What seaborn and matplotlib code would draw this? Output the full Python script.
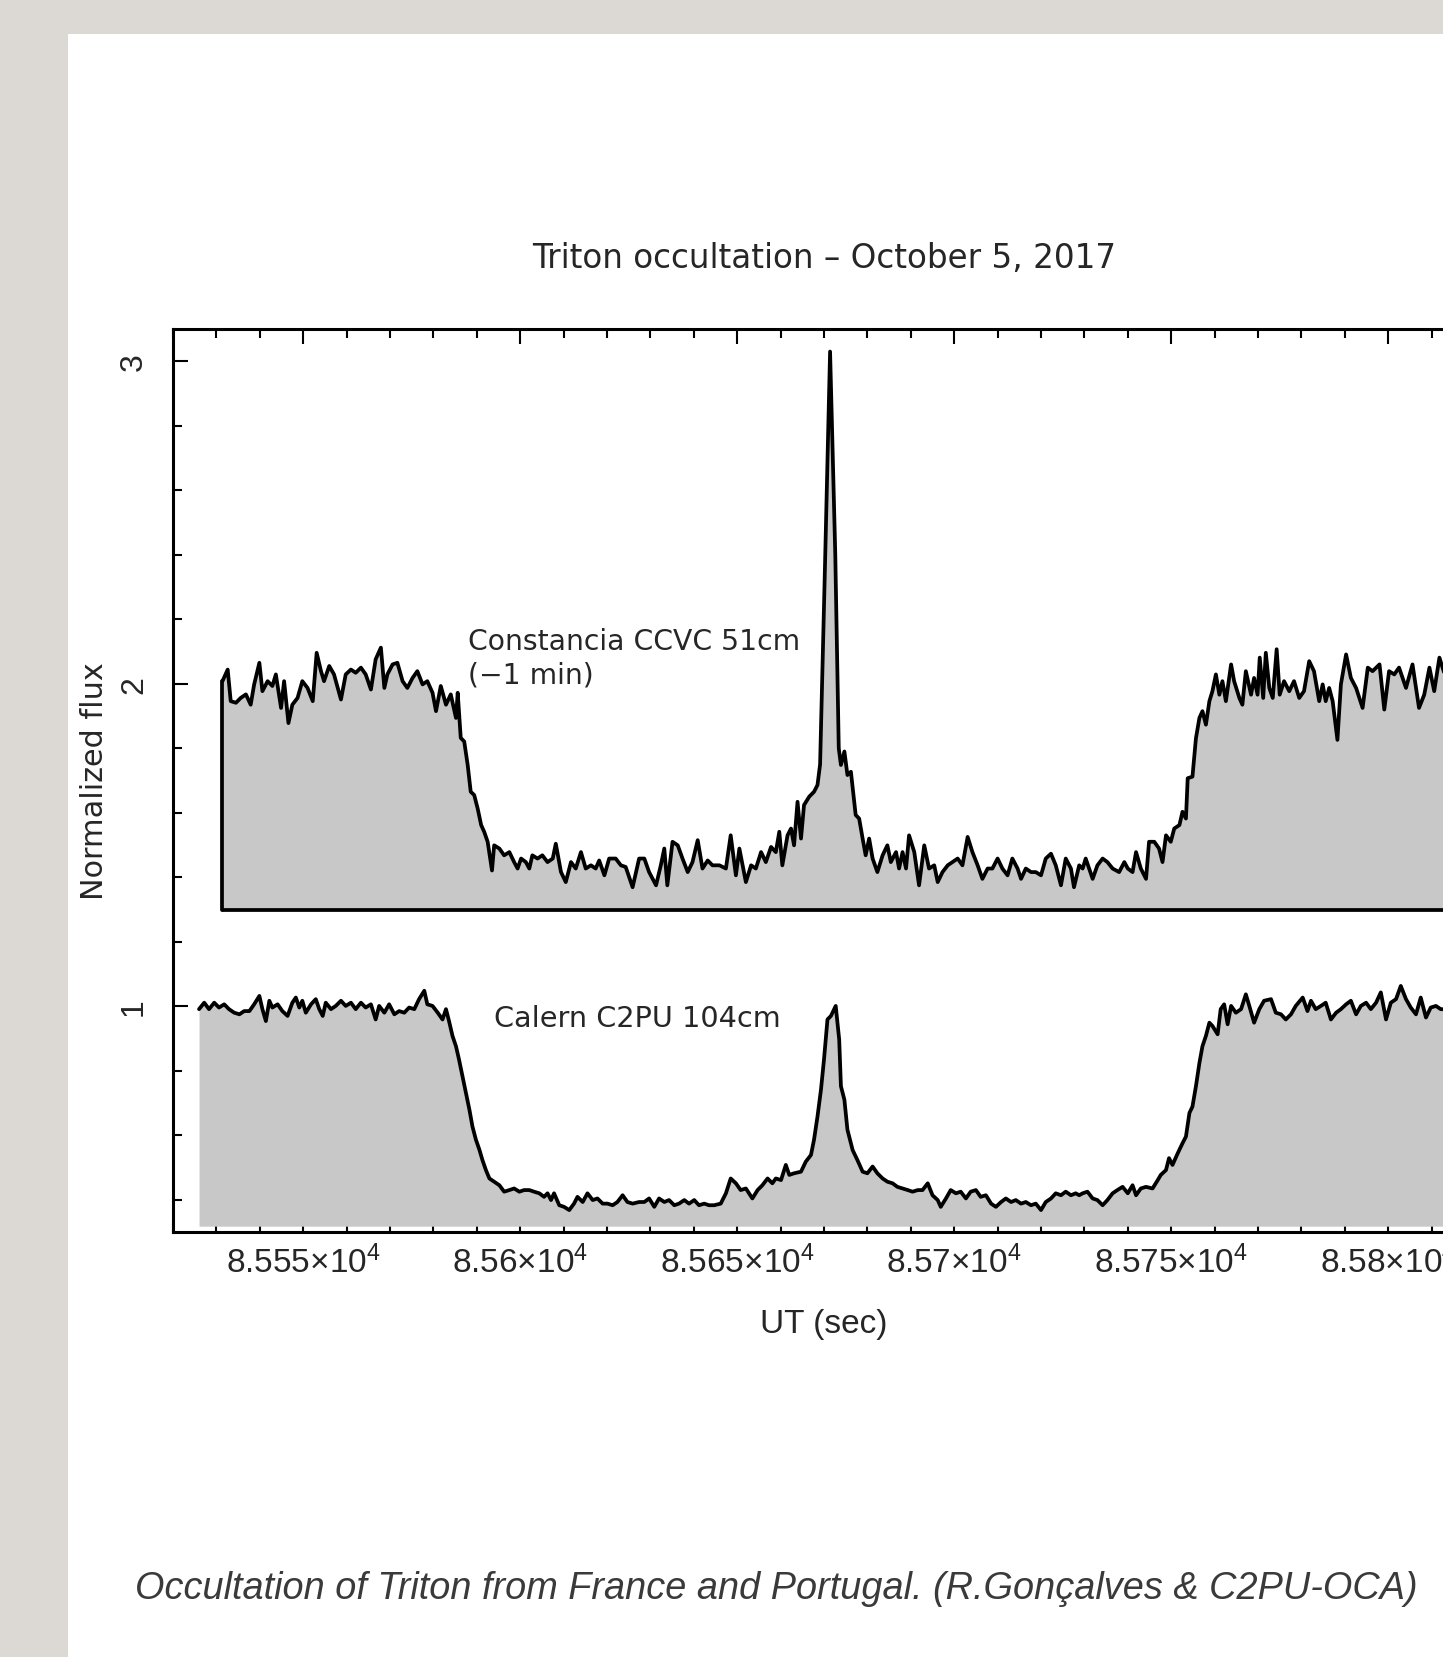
import numpy as np
import pandas as pd
import matplotlib
matplotlib.use("Agg")
import matplotlib.pyplot as plt
import seaborn as sns
from matplotlib.patches import Rectangle
from matplotlib.ticker import MultipleLocator, FuncFormatter

sns.set_style("ticks")
plt.rcParams["font.family"] = ["DejaVu Sans"]
plt.rcParams["mathtext.default"] = "regular"

# ---------------- data ----------------
title_text = "Triton occultation – October 5, 2017"
xlabel_text = "UT (sec)"
ylabel_text = "Normalized flux"
caption_text = "Occultation of Triton from France and Portugal. (R.Gonçalves & C2PU-OCA)"
label_upper = "Constancia CCVC 51cm\n(−1 min)"
label_lower = "Calern C2PU 104cm"

time_origin = 85500.0  # UT seconds; the series below are seconds after this

upper_sec = [
    31.4, 32.6, 33.3, 34.5, 35.6, 36.8, 37.9, 38.7, 39.9, 40.6,
    41.8, 42.9, 43.7, 44.9, 45.6, 46.6, 47.5, 48.7, 49.8, 51.0,
    52.2, 53.1, 54.1, 54.8, 56.0, 57.1, 58.7, 59.8, 61.0, 62.1,
    63.3, 64.4, 65.6, 66.7, 67.9, 68.7, 69.4, 70.6, 71.7, 72.9,
    74.0, 75.2, 76.3, 77.5, 78.6, 79.8, 80.6, 81.7, 82.9, 84.0,
    85.2, 85.6, 86.3, 87.1, 87.9, 88.6, 89.4, 90.2, 91.0, 91.7,
    92.5, 93.5, 94.0, 95.2, 96.3, 97.5, 98.6, 99.4, 100.2, 101.3,
    102.1, 102.8, 104.0, 105.1, 106.3, 107.5, 108.2, 109.4, 110.5, 111.7,
    112.8, 114.0, 115.1, 116.3, 117.4, 118.2, 119.4, 120.5, 122.0, 123.2,
    124.3, 125.9, 127.4,
    128.6, 129.7, 131.3, 132.4, 133.2, 133.9, 135.1, 136.3, 137.4, 138.6,
    139.7, 140.9, 142.0, 143.2, 144.3, 145.9, 147.4, 148.5, 149.7, 150.5,
    152.0, 153.2, 154.3, 155.5, 156.6, 157.8, 158.9, 159.7, 160.4, 161.6,
    162.4, 163.1, 163.9, 164.7, 165.4, 166.6, 167.7, 168.5, 169.1, 170.2,
    171.4, 172.6, 173.4, 173.9, 174.7, 175.4, 176.2, 177.3, 178.1, 178.9,
    179.6, 180.4, 181.2, 182.3, 183.5, 184.6, 185.4, 186.6, 187.3, 188.1,
    188.9, 189.6, 190.8, 191.9, 193.1, 194.2, 195.4, 196.2, 197.3, 198.5,
    199.6, 200.8, 201.9, 203.1, 204.2, 205.4, 206.5, 207.7, 208.8, 210.0,
    211.1, 212.3, 213.4, 214.6, 215.4, 216.5, 217.7, 218.8, 220.0, 221.1,
    222.3, 223.4, 224.6, 225.7, 226.9, 227.6, 228.8,
    229.6, 230.3, 231.9, 233.0, 234.2, 235.3, 236.5, 238.0, 239.2, 240.0,
    241.1, 241.9, 243.0, 244.2, 244.9, 246.1, 247.2, 248.0, 248.8, 249.9,
    250.7, 251.9, 252.6, 253.4, 253.8, 254.9, 255.7, 256.5, 257.2, 258.0,
    258.8, 259.5, 260.3, 261.1, 261.8, 262.6, 263.8, 264.5, 265.7, 266.4,
    267.2, 268.4, 269.1, 269.9, 270.4, 271.2, 271.8, 272.6, 273.4, 274.3,
    275.0, 276.0, 277.2, 278.3, 279.5, 280.6, 281.8, 282.9, 284.1, 284.9,
    285.6, 286.4, 287.2, 288.3, 289.1, 290.3, 291.4, 292.6, 294.1, 295.3,
    296.4, 298.0, 299.1, 300.2, 301.4, 302.5, 304.1, 305.6, 307.1, 308.3,
    309.5, 310.6, 311.8, 313.0, 314.5,
]
upper_flux = [
    2.008, 2.044, 1.946, 1.941, 1.956, 1.967, 1.935, 1.998, 2.065, 1.977,
    2.008, 1.993, 2.029, 1.925, 2.008, 1.878, 1.935, 1.956, 2.008, 1.987,
    1.946, 2.096, 2.039, 2.008, 2.055, 2.029, 1.951, 2.029, 2.044, 2.034,
    2.050, 2.029, 1.982, 2.076, 2.112, 1.987, 2.029, 2.060, 2.065, 2.008,
    1.987, 2.018, 2.039, 1.998, 2.008, 1.972, 1.915, 1.993, 1.935, 1.967,
    1.894, 1.972, 1.832, 1.821, 1.748, 1.665, 1.655, 1.613, 1.562, 1.541,
    1.510, 1.421, 1.499, 1.489, 1.468, 1.478, 1.447, 1.427, 1.458, 1.447,
    1.427, 1.468, 1.458, 1.468, 1.447, 1.458, 1.504, 1.416, 1.385, 1.447,
    1.427, 1.478, 1.427, 1.437, 1.427, 1.452, 1.406, 1.458, 1.458, 1.437,
    1.432, 1.369, 1.458,
    1.458, 1.416, 1.375, 1.437, 1.489, 1.375, 1.510, 1.499, 1.458, 1.416,
    1.447, 1.515, 1.427, 1.452, 1.437, 1.437, 1.427, 1.530, 1.406, 1.489,
    1.385, 1.437, 1.427, 1.478, 1.447, 1.494, 1.478, 1.541, 1.437, 1.530,
    1.551, 1.499, 1.634, 1.520, 1.624, 1.650, 1.665, 1.686, 1.75, 2.35,
    3.03, 2.40, 1.80, 1.748, 1.790, 1.717, 1.727, 1.593, 1.582, 1.520,
    1.468, 1.520, 1.458, 1.416, 1.468, 1.499, 1.447, 1.478, 1.427, 1.478,
    1.427, 1.530, 1.478, 1.375, 1.499, 1.427, 1.437, 1.385, 1.416, 1.437,
    1.447, 1.458, 1.437, 1.525, 1.478, 1.437, 1.395, 1.427, 1.427, 1.458,
    1.427, 1.406, 1.458, 1.427, 1.395, 1.427, 1.416, 1.416, 1.406, 1.458,
    1.473, 1.437, 1.375, 1.458, 1.427, 1.369, 1.437,
    1.427, 1.458, 1.395, 1.437, 1.458, 1.447, 1.427, 1.416, 1.447, 1.427,
    1.416, 1.478, 1.427, 1.395, 1.510, 1.510, 1.489, 1.447, 1.530, 1.510,
    1.551, 1.562, 1.603, 1.582, 1.707, 1.712, 1.831, 1.894, 1.915, 1.873,
    1.946, 1.977, 2.029, 1.966, 2.008, 1.946, 2.060, 2.008, 1.956, 1.935,
    2.039, 1.966, 2.018, 1.966, 2.081, 1.956, 2.096, 1.987, 1.956, 2.107,
    1.966, 2.008, 1.977, 2.008, 1.956, 1.977, 2.070, 2.039, 1.946, 1.998,
    1.946, 1.987, 1.946, 1.826, 1.998, 2.091, 2.018, 1.987, 1.925, 2.050,
    2.039, 2.060, 1.920, 2.039, 2.029, 2.050, 1.987, 2.060, 1.925, 1.966,
    2.050, 1.977, 2.081, 2.03, 2.00,
]
upper_base = 1.30

lower_sec = [
    26.0, 27.2, 28.3, 29.5, 30.6, 31.8, 32.9, 34.1, 35.3, 36.4,
    37.6, 38.7, 39.9, 40.6, 41.4, 42.2, 42.9, 44.1, 45.2, 46.4,
    47.5, 48.3, 49.1, 49.8, 50.6, 51.8, 52.9, 53.7, 54.5, 55.2,
    56.4, 57.5, 58.7, 59.8, 61.0, 62.1, 63.3, 64.4, 65.6, 66.7,
    67.5, 68.7, 69.8, 71.0, 72.1, 73.3, 74.4, 75.6, 76.7, 77.9,
    78.6, 79.8, 81.0, 82.1, 82.9, 83.6, 84.4, 85.2, 85.9, 86.7,
    87.5, 88.3, 89.0, 89.8, 90.6, 91.3, 92.1, 92.9, 94.0, 95.2,
    96.3, 97.5, 98.6, 99.8, 100.9, 102.1, 103.2, 104.4, 105.5, 106.3,
    107.1, 107.8, 109.0, 110.1, 111.3, 112.4, 113.2, 114.4, 115.5, 116.7,
    117.8, 119.0, 120.1, 121.3, 122.4, 123.6, 124.7, 125.9, 127.4,
    128.6, 129.7, 130.9, 132.0, 133.2, 134.3, 135.5, 136.6, 137.8, 138.9,
    140.1, 141.2, 142.4, 143.5, 144.7, 146.2, 147.4, 148.5, 149.7, 150.8,
    152.0, 153.5, 154.7, 155.8, 157.0, 158.1, 158.9, 160.1, 161.2, 162.0,
    163.1, 164.7, 165.8, 167.0, 167.7, 168.5, 169.3, 170.0, 170.8, 171.6,
    172.7, 173.5, 173.9, 174.7, 175.4, 176.6, 177.7, 178.9, 180.0, 181.2,
    182.3, 183.5, 184.6, 185.8, 186.9, 188.1, 189.3, 190.4, 191.6, 192.7,
    193.9, 195.0, 196.2, 196.9, 198.1, 199.2, 200.4, 201.5, 202.7, 203.8,
    205.0, 206.1, 207.3, 208.5, 209.6, 210.8, 211.9, 213.1, 214.2, 215.4,
    216.5, 217.7, 218.8, 220.0, 221.1, 222.3, 223.4, 224.6, 225.7, 226.9,
    228.0, 228.8,
    229.6, 230.7, 231.9, 233.0, 234.2, 235.3, 236.5, 237.6, 238.8, 240.0,
    241.1, 241.9, 243.0, 244.2, 245.7, 246.9, 247.6, 248.8, 249.5, 250.3,
    251.5, 252.6, 253.4, 254.2, 254.9, 255.7, 256.5, 257.2, 258.0, 258.8,
    259.5, 260.7, 261.4, 262.2, 263.0, 263.8, 264.9, 266.1, 267.2, 268.0,
    269.1, 270.3, 271.4, 273.0, 274.1, 275.3, 276.4, 277.6, 278.7, 280.3,
    281.4, 282.2, 283.3, 284.5, 285.6, 286.8, 288.0, 289.1, 290.3, 291.4,
    292.6, 293.7, 294.9, 296.0, 297.2, 298.3, 299.5, 300.6, 301.8, 302.9,
    304.1, 305.2, 306.4, 307.5, 308.7, 309.8, 311.0, 312.1, 314.0,
]
lower_flux = [
    0.991, 1.011, 0.991, 1.011, 0.996, 1.006, 0.991, 0.980, 0.975, 0.985,
    0.985, 1.006, 1.032, 0.991, 0.954, 1.017, 0.996, 1.006, 0.985, 0.970,
    1.011, 1.027, 0.996, 1.017, 0.980, 1.006, 1.022, 0.991, 0.970, 1.011,
    0.991, 1.001, 1.017, 1.001, 1.011, 0.991, 1.011, 0.996, 1.006, 0.959,
    1.001, 0.980, 1.006, 0.975, 0.985, 0.980, 0.996, 0.991, 1.022, 1.048,
    1.006, 1.001, 0.980, 0.959, 0.991, 0.954, 0.908, 0.876, 0.835, 0.783,
    0.731, 0.679, 0.627, 0.586, 0.555, 0.523, 0.492, 0.466, 0.456, 0.445,
    0.425, 0.430, 0.435, 0.425, 0.430, 0.430, 0.425, 0.420, 0.409, 0.420,
    0.399, 0.420, 0.383, 0.378, 0.368, 0.388, 0.409, 0.393, 0.420, 0.399,
    0.404, 0.388, 0.388, 0.383, 0.393, 0.414, 0.393, 0.388, 0.393,
    0.393, 0.404, 0.378, 0.404, 0.393, 0.399, 0.383, 0.388, 0.399, 0.388,
    0.399, 0.383, 0.388, 0.383, 0.383, 0.388, 0.420, 0.466, 0.451, 0.430,
    0.435, 0.404, 0.430, 0.445, 0.466, 0.451, 0.466, 0.461, 0.508, 0.477,
    0.482, 0.487, 0.518, 0.539, 0.586, 0.658, 0.741, 0.835, 0.959, 0.970,
    1.001, 0.897, 0.752, 0.710, 0.617, 0.554, 0.523, 0.487, 0.482, 0.503,
    0.482, 0.466, 0.456, 0.451, 0.440, 0.435, 0.430, 0.425, 0.430, 0.430,
    0.451, 0.414, 0.399, 0.378, 0.404, 0.430, 0.420, 0.425, 0.404, 0.425,
    0.430, 0.409, 0.414, 0.388, 0.378, 0.393, 0.404, 0.393, 0.399, 0.388,
    0.393, 0.383, 0.388, 0.368, 0.393, 0.404, 0.420, 0.414, 0.425, 0.414,
    0.420, 0.414,
    0.420, 0.425, 0.404, 0.399, 0.383, 0.399, 0.420, 0.430, 0.440, 0.420,
    0.445, 0.414, 0.435, 0.440, 0.435, 0.461, 0.477, 0.492, 0.529, 0.508,
    0.544, 0.575, 0.596, 0.669, 0.689, 0.752, 0.824, 0.876, 0.908, 0.949,
    0.939, 0.913, 0.991, 1.006, 0.944, 1.001, 0.980, 0.991, 1.037, 1.001,
    0.949, 0.991, 1.017, 1.022, 0.980, 0.975, 0.959, 0.975, 1.001, 1.027,
    0.985, 1.017, 0.991, 1.001, 1.011, 0.959, 0.980, 0.991, 1.006, 1.017,
    0.975, 1.001, 1.011, 0.991, 1.011, 1.043, 0.959, 1.011, 1.022, 1.063,
    1.022, 0.996, 0.975, 1.027, 0.965, 0.996, 1.001, 0.991, 0.99,
]
lower_base = 0.318

x_range = (85520, 85820)
y_range = (0.30, 3.10)

# ---------------- figure ----------------
W, H = 1443, 1658
fig = plt.figure(figsize=(W / 100, H / 100), dpi=100)
fig.patch.set_facecolor("#dcd9d4")
fig.patches.append(Rectangle((68 / W, 0), 1.0, 1 - 35 / H, transform=fig.transFigure,
                             facecolor="white", edgecolor="none", zorder=-5))

ax = fig.add_axes([173 / W, 1 - 1233 / H, 1302 / W, 903 / H])
ax.set_facecolor("white")

upper_df = pd.DataFrame({"UT": time_origin + np.array(upper_sec), "flux": upper_flux})
lower_df = pd.DataFrame({"UT": time_origin + np.array(lower_sec), "flux": lower_flux})

fill_col = "#c8c8c8"
ax.fill_between(lower_df["UT"], lower_base, lower_df["flux"], color=fill_col, lw=0, zorder=1)
ax.fill_between(upper_df["UT"], upper_base, upper_df["flux"], color=fill_col, lw=0, zorder=1)

lw = 2.7
sns.lineplot(data=lower_df, x="UT", y="flux", ax=ax, color="black", linewidth=lw,
             estimator=None, sort=False, solid_joinstyle="round", zorder=3)
sns.lineplot(data=upper_df, x="UT", y="flux", ax=ax, color="black", linewidth=lw,
             estimator=None, sort=False, solid_joinstyle="round", zorder=3)
# outline of the upper (offset) light curve box
t0 = upper_df["UT"].iloc[0]
ax.plot([t0, t0], [upper_base, upper_df["flux"].iloc[0]], color="black", lw=lw, zorder=3)
ax.plot([t0, x_range[1] + 20], [upper_base, upper_base], color="black", lw=lw, zorder=3,
        solid_capstyle="butt")

ax.set_xlim(*x_range)
ax.set_ylim(*y_range)

# ticks
ax.xaxis.set_major_locator(MultipleLocator(50))
ax.xaxis.set_minor_locator(MultipleLocator(10))
ax.yaxis.set_major_locator(MultipleLocator(1))
ax.yaxis.set_minor_locator(MultipleLocator(0.2))
ax.xaxis.set_major_formatter(FuncFormatter(lambda v, p: f"{v/1e4:g}×10$^{{4}}$"))
ax.yaxis.set_major_formatter(FuncFormatter(lambda v, p: f"{v:g}"))
ax.tick_params(which="both", direction="in", top=True, right=True, width=1.5, color="black")
ax.tick_params(which="major", length=11)
ax.tick_params(which="minor", length=6.5)
ax.tick_params(axis="x", which="major", pad=9, labelsize=24)
ax.tick_params(axis="y", which="major", pad=28, labelsize=23, labelrotation=90)
ax.set_axisbelow(True)
for lab in ax.get_xticklabels():
    lab.set_family(["Liberation Sans", "DejaVu Sans"])
for lab in ax.get_yticklabels():
    lab.set_family(["Liberation Sans", "DejaVu Sans"])
    lab.set_ha("center")
    lab.set_va("center")

for sp in ax.spines.values():
    sp.set_linewidth(2.2)
    sp.set_color("black")
    sp.set_zorder(4)

ax.set_xlabel(xlabel_text, fontsize=24, family=["Liberation Sans", "DejaVu Sans"], va="center")
ax.xaxis.set_label_coords(0.5, -(1325 - 1233) / 903)
ax.set_ylabel(ylabel_text, fontsize=21.8, va="center")
ax.yaxis.set_label_coords((95 - 173) / 1302, 0.5)

ax.text(85588.0, 2.08, label_upper, fontsize=20.3, ha="left", va="center", linespacing=1.25)
ax.text(85594.0, 0.963, label_lower, fontsize=20.7, ha="left", va="center")

fig.text(824 / W, 1 - 258 / H, title_text, fontsize=23.5, ha="center", va="center")
fig.text(135 / W, 1 - 1589 / H, caption_text, fontsize=27.3, style="italic",
         family=["Liberation Sans", "DejaVu Sans"], color="#3a3a3a", ha="left", va="center")

fig.savefig("out.png", dpi=100, facecolor=fig.get_facecolor())
